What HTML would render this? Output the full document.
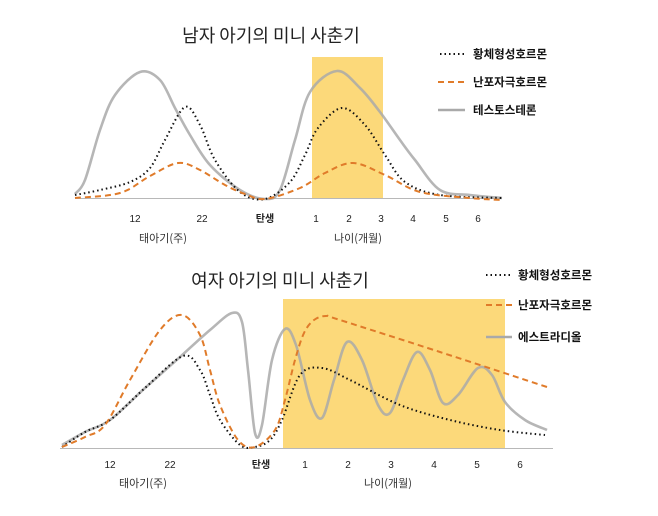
<!DOCTYPE html>
<html><head><meta charset="utf-8"><style>
html,body{margin:0;padding:0;background:#fff;}
svg{display:block;}
text{font-family:"Liberation Sans","Noto Sans CJK KR",sans-serif;}
.t{font-size:18px;fill:#222;font-family:"Noto Sans CJK KR",sans-serif;}
.tk{font-size:10px;fill:#222;}
.lg{font-size:11.5px;font-weight:bold;fill:#111;font-family:"Noto Sans CJK KR",sans-serif;}
.ax{font-size:11px;fill:#333;font-family:"Noto Sans CJK KR",sans-serif;}
</style></head><body>
<svg id="s" width="658" height="516" viewBox="0 0 658 516" xmlns="http://www.w3.org/2000/svg">
<rect width="658" height="516" fill="#fff"/>
<rect x="312" y="57" width="71" height="141" fill="#fcd97a"/>
<line x1="75" y1="198.5" x2="502" y2="198.5" stroke="#b8b8b8" stroke-width="1"/>
<path id="g1" fill="none" stroke="#a9a9a9" stroke-width="2.6" opacity="0.85"/>
<path id="k1" fill="none" stroke="#111" stroke-width="2" stroke-dasharray="1.5 3"/>
<path id="o1" fill="none" stroke="#e07b2a" stroke-width="2" stroke-dasharray="6 4"/>
<text class="t" x="271" y="42" text-anchor="middle">남자 아기의 미니 사춘기</text>
<line x1="440" y1="54" x2="465" y2="54" stroke="#111" stroke-width="2" stroke-dasharray="1.5 3"/>
<line x1="438" y1="82" x2="465" y2="82" stroke="#e07b2a" stroke-width="2" stroke-dasharray="6 4"/>
<line x1="438" y1="110" x2="465" y2="110" stroke="#a9a9a9" stroke-width="2.6"/>
<text class="lg" x="473" y="58">황체형성호르몬</text>
<text class="lg" x="473" y="86">난포자극호르몬</text>
<text class="lg" x="473" y="114">테스토스테론</text>
<g class="tk" text-anchor="middle">
<text x="135" y="222">12</text><text x="202" y="222">22</text>
<text x="265" y="222" font-weight="bold" style="font-family:'Noto Sans CJK KR',sans-serif">탄생</text>
<text x="316" y="222">1</text><text x="349" y="222">2</text><text x="381" y="222">3</text>
<text x="413" y="222">4</text><text x="446" y="222">5</text><text x="478" y="222">6</text>
</g>
<text class="ax" x="163" y="242" text-anchor="middle">태아기(주)</text>
<text class="ax" x="358" y="242" text-anchor="middle">나이(개월)</text>
<rect x="283" y="299" width="222" height="149" fill="#fcd97a"/>
<line x1="60" y1="448.5" x2="553" y2="448.5" stroke="#b8b8b8" stroke-width="1"/>
<path id="g2" fill="none" stroke="#a9a9a9" stroke-width="2.6" opacity="0.85"/>
<path id="k2" fill="none" stroke="#111" stroke-width="2" stroke-dasharray="1.5 3"/>
<path id="o2" fill="none" stroke="#e07b2a" stroke-width="2" stroke-dasharray="6 4"/>
<text class="t" x="280" y="287" text-anchor="middle">여자 아기의 미니 사춘기</text>
<line x1="486" y1="275" x2="512" y2="275" stroke="#111" stroke-width="2" stroke-dasharray="1.5 3"/>
<line x1="486" y1="305" x2="512" y2="305" stroke="#e07b2a" stroke-width="2" stroke-dasharray="6 4"/>
<line x1="486" y1="337" x2="512" y2="337" stroke="#a9a9a9" stroke-width="2.6"/>
<text class="lg" x="518" y="279">황체형성호르몬</text>
<text class="lg" x="518" y="309">난포자극호르몬</text>
<text class="lg" x="518" y="341">에스트라디올</text>
<g class="tk" text-anchor="middle">
<text x="110" y="468">12</text><text x="170" y="468">22</text>
<text x="261" y="468" font-weight="bold" style="font-family:'Noto Sans CJK KR',sans-serif">탄생</text>
<text x="305" y="468">1</text><text x="348" y="468">2</text><text x="391" y="468">3</text>
<text x="434" y="468">4</text><text x="477" y="468">5</text><text x="520" y="468">6</text>
</g>
<text class="ax" x="143" y="487" text-anchor="middle">태아기(주)</text>
<text class="ax" x="388" y="487" text-anchor="middle">나이(개월)</text>
</svg>
<script>
function cr(p){var d="M"+p[0][0]+","+p[0][1];for(var i=0;i<p.length-1;i++){var a=p[i-1]||p[i],b=p[i],c=p[i+1],e=p[i+2]||c;
d+=" C"+(b[0]+(c[0]-a[0])/6).toFixed(1)+","+(b[1]+(c[1]-a[1])/6).toFixed(1)+" "+(c[0]-(e[0]-b[0])/6).toFixed(1)+","+(c[1]-(e[1]-b[1])/6).toFixed(1)+" "+c[0]+","+c[1];}return d;}
var S={
g1:[[75,194],[85,180],[100,130],[115,95],[140,72],[160,80],[175,108],[190,135],[210,165],[240,190],[265,199],[280,190],[295,140],[310,92],[337,71],[360,88],[380,112],[400,140],[415,160],[440,190],[470,195],[502,198]],
k1:[[75,195],[100,190],[130,182],[150,168],[165,140],[185,107],[200,125],[215,160],[240,192],[265,199],[290,182],[305,155],[318,128],[342,108],[365,125],[385,155],[405,182],[440,195],[502,198]],
o1:[[75,198],[120,193],[150,176],[178,163],[200,170],[225,185],[245,194],[265,199],[300,188],[325,173],[353,163],[385,175],[420,192],[470,198],[502,200]],
g2:[[62,445],[85,432],[110,420],[145,388],[180,357],[210,330],[232,313],[242,322],[248,370],[255,433],[262,425],[272,360],[285,329],[296,345],[310,400],[322,418],[334,380],[347,342],[362,360],[378,405],[390,413],[403,380],[417,352],[430,370],[443,403],[458,395],[478,368],[492,375],[505,402],[525,420],[547,430]],
k2:[[62,447],[85,432],[110,420],[145,388],[183,356],[200,370],[210,395],[220,420],[240,445],[255,447],[270,440],[282,420],[300,375],[322,368],[350,380],[400,405],[450,420],[500,430],[545,435]],
o2:[[62,447],[85,437],[105,425],[130,380],[160,330],[182,315],[200,335],[210,370],[220,405],[238,440],[255,447],[275,430],[285,400],[295,360],[304,333],[314,320],[326,316],[340,320],[440,352],[547,387]]
};
for(var k in S)document.getElementById(k).setAttribute("d",cr(S[k]));
</script>
</body></html>
